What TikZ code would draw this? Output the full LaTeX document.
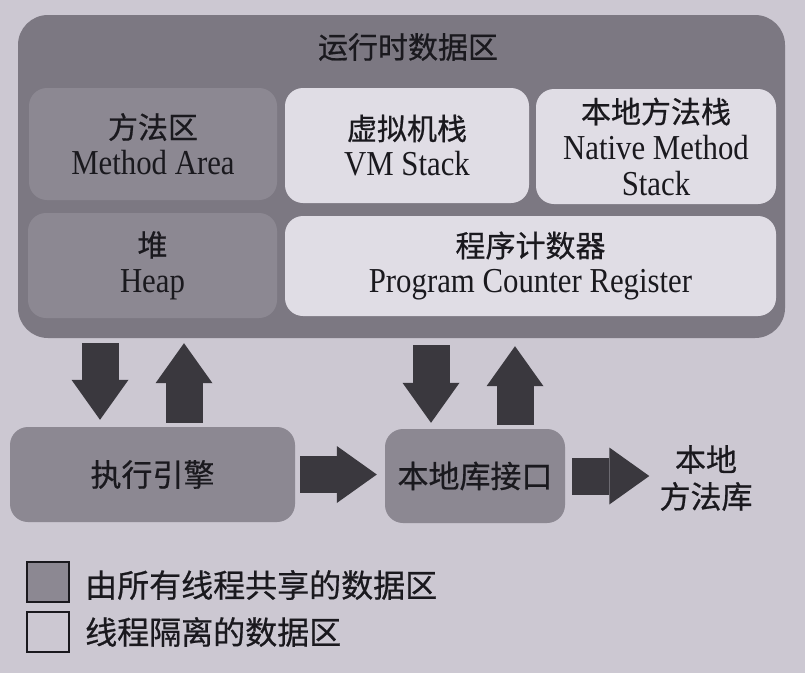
\documentclass[tikz,border=0pt]{standalone}
\usepackage{fontspec}
\setmainfont{Liberation Serif}[FakeStretch=0.88]
\newfontfamily\zh{Noto Sans CJK SC}[FakeBold=0.6]
\usepackage{xcolor}
\usetikzlibrary{arrows.meta,positioning,calc}
\definecolor{paper}{RGB}{204,200,210}
\definecolor{outer}{RGB}{124,120,130}
\definecolor{shared}{RGB}{140,136,146}
\definecolor{private}{RGB}{224,221,229}
\definecolor{blkc}{RGB}{58,56,62}
\definecolor{ink}{RGB}{26,25,30}

\begin{document}
\begin{tikzpicture}[x=1pt,y=-1pt, every node/.style={text=ink,font=\fontsize{35}{36}\selectfont,inner sep=0pt}, area/.style={rounded corners=18pt,align=center}, sharedbox/.style={area,fill=shared}, privbox/.style={area,fill=private}, blk/.style={line width=37pt,draw=blkc,-{Triangle[length=40pt,width=57pt,line width=0pt]}}, keybox/.style={draw=ink,line width=1.6pt,minimum width=42pt,minimum height=40pt}]
\fill[paper] (0,0) rectangle (805,673);
\useasboundingbox (0,0) rectangle (805,673);
\node[area,rounded corners=30pt,fill=outer,minimum width=767pt,minimum height=323pt] (rda) at (401.5,176.5) {};
\node (title) at (408,47) {\zh\fontsize{30}{36}\selectfont 运行时数据区};
\node[sharedbox,minimum width=248pt,minimum height=112pt] (meth) at (153,144) {{\zh\fontsize{30}{36}\selectfont 方法区}\\Method Area};
\node[privbox,minimum width=244pt,minimum height=115pt] (vms) at (407,145.5) {{\zh\fontsize{30}{36}\selectfont 虚拟机栈}\\VM Stack};
\node[privbox,minimum width=240pt,minimum height=115pt] (nms) at (656,146.5) {{\zh\fontsize{30}{36}\selectfont 本地方法栈}\\Native Method\\Stack};
\node[sharedbox,minimum width=249pt,minimum height=105pt] (heap) at (152.5,265.5) {{\zh\fontsize{30}{38}\selectfont 堆}\\Heap};
\node[privbox,minimum width=491pt,minimum height=100pt] (pcr) at (530.5,266) {{\zh\fontsize{30}{38}\selectfont 程序计数器}\\Program Counter Register};
\node[sharedbox,minimum width=285pt,minimum height=95pt,font=\zh\fontsize{31}{36}\selectfont] (exec) at (152.5,474.5) {执行引擎};
\node[sharedbox,minimum width=180pt,minimum height=94pt,font=\zh\fontsize{31}{36}\selectfont] (jni) at (475,476) {本地库接口};
\node[align=center,font=\zh\fontsize{31}{37}\selectfont] (nlib) at (706,478) {本地\\方法库};
% legend
\node[keybox,fill=shared] (key1) at (48,582) {};
\node[keybox,fill=paper] (key2) at (48,632) {};
\node[anchor=west,font=\zh\fontsize{32}{36}\selectfont] (key1txt) at (85,585) {由所有线程共享的数据区};
\node[anchor=west,font=\zh\fontsize{32}{36}\selectfont] (key2txt) at (85,632) {线程隔离的数据区};
% block arrows
\path (100,0) coordinate (x1) (184,0) coordinate (x2) (431,0) coordinate (x3) (515,0) coordinate (x4);
\draw[blk,shorten <=5pt,shorten >=7pt] (x1 |- rda.south) -- (x1 |- exec.north);
\draw[blk,shorten <=4pt,shorten >=5pt] (x2 |- exec.north) -- (x2 |- rda.south);
\draw[blk,shorten <=7pt,shorten >=6pt] (x3 |- rda.south) -- (x3 |- jni.north);
\draw[blk,shorten <=4pt,shorten >=8pt] (x4 |- jni.north) -- (x4 |- rda.south);
\draw[blk,shorten <=5pt,shorten >=8pt] (exec.east) -- (exec.east -| jni.west);
\draw[blk,shorten <=7pt,shorten >=10pt] (jni.east) -- (jni.east -| nlib.west);
\end{tikzpicture}
\end{document}
